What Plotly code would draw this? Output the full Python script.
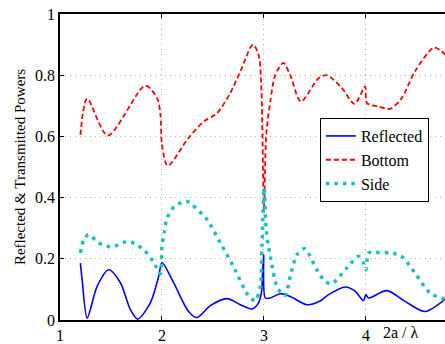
import plotly.graph_objects as go

# Reflected power
refl_x = [1.20, 1.217, 1.266, 1.364, 1.478, 1.593, 1.69, 1.762, 1.886, 1.968, 2.0, 2.115, 2.26,
          2.344, 2.474, 2.638, 2.768, 2.882, 2.947, 2.975, 2.996, 3.013, 3.062, 3.16, 3.258, 3.421,
          3.545, 3.633, 3.796, 3.894, 3.975, 3.999, 4.025, 4.205, 4.384, 4.58, 4.80]
refl_y = [0.186, 0.132, 0.006, 0.11, 0.164, 0.121, 0.034, 0.003, 0.056, 0.143, 0.188, 0.121, 0.028,
          0.008, 0.047, 0.07, 0.05, 0.036, 0.056, 0.09, 0.213, 0.072, 0.072, 0.086, 0.077, 0.05,
          0.061, 0.083, 0.108, 0.094, 0.063, 0.083, 0.072, 0.096, 0.061, 0.028, 0.075]

# Bottom transmitted power
bot_x = [1.20, 1.266, 1.468, 1.837, 1.952, 1.985, 2.0, 2.056, 2.26, 2.41, 2.54, 2.67, 2.768,
         2.892, 2.947, 2.973, 3.0, 3.022, 3.062, 3.11, 3.19, 3.258, 3.362, 3.535, 3.617, 3.764,
         3.888, 3.992, 4.009, 4.122, 4.237, 4.35, 4.48, 4.67, 4.80]
bot_y = [0.605, 0.723, 0.603, 0.766, 0.725, 0.671, 0.573, 0.504, 0.595, 0.649, 0.676, 0.742, 0.812,
         0.90, 0.867, 0.769, 0.36, 0.605, 0.714, 0.80, 0.84, 0.80, 0.714, 0.79, 0.80, 0.758,
         0.706, 0.763, 0.709, 0.698, 0.69, 0.725, 0.812, 0.89, 0.86]

# Side transmitted power
side_x = [1.20, 1.233, 1.282, 1.38, 1.511, 1.625, 1.697, 1.82, 1.913, 1.984, 2.0, 2.024, 2.05,
          2.121, 2.239, 2.295, 2.442, 2.572, 2.70, 2.849, 2.915, 2.964, 2.98, 3.003, 3.022, 3.062,
          3.133, 3.205, 3.258, 3.323, 3.398, 3.519, 3.60, 3.666, 3.813, 3.927, 3.976, 4.0, 4.025,
          4.07, 4.25, 4.35, 4.48, 4.63, 4.80]
side_y = [0.219, 0.262, 0.279, 0.252, 0.239, 0.254, 0.255, 0.23, 0.192, 0.151, 0.24, 0.29, 0.333,
          0.371, 0.388, 0.377, 0.328, 0.252, 0.175, 0.079, 0.063, 0.11, 0.24, 0.431, 0.295, 0.208,
          0.105, 0.08, 0.143, 0.213, 0.233, 0.164, 0.126, 0.119, 0.17, 0.208, 0.186, 0.164, 0.219,
          0.22, 0.219, 0.208, 0.154, 0.088, 0.066]

x_ticks = [1, 2, 3, 4]
y_ticks = [0, 0.2, 0.4, 0.6, 0.8, 1]
y_ticktext = ["0", "0.2", "0.4", "0.6", "0.8", "1"]

serif = "'Liberation Serif', 'Times New Roman', 'DejaVu Serif', serif"

fig = go.Figure()
fig.add_trace(go.Scatter(x=refl_x, y=refl_y, mode="lines", name="Reflected",
                         line=dict(color="#0000ff", width=1.6, shape="spline", smoothing=0.8)))
fig.add_trace(go.Scatter(x=bot_x, y=bot_y, mode="lines", name="Bottom",
                         line=dict(color="#ff0000", width=1.8, dash="5px,3px", shape="spline", smoothing=0.8)))
fig.add_trace(go.Scatter(x=side_x, y=side_y, mode="lines", name="Side",
                         line=dict(color="#1fbfbf", width=3.5, dash="3.5px,5px", shape="spline", smoothing=0.8)))

grid = dict(showgrid=True, gridcolor="#b4b4b4", griddash="1px,4px", gridwidth=1)

fig.update_layout(
    width=445, height=344,
    margin=dict(l=60, r=0, t=14, b=24),
    paper_bgcolor="white", plot_bgcolor="white",
    font=dict(family=serif, size=16, color="black"),
    showlegend=True,
    legend=dict(x=0.675, y=0.66, xanchor="left", yanchor="top",
                bordercolor="black", borderwidth=1, bgcolor="white",
                font=dict(family=serif, size=16), tracegroupgap=0),
    xaxis=dict(range=[1, 4.775], tickvals=x_ticks, ticktext=[str(v) for v in x_ticks],
               showline=True, linecolor="black", linewidth=1.5, mirror="ticks",
               ticks="inside", ticklen=4, tickcolor="black",
               zeroline=False, tickfont=dict(family=serif, size=16), **grid),
    yaxis=dict(range=[0, 1], tickvals=y_ticks, ticktext=y_ticktext,
               showline=True, linecolor="black", linewidth=1.5, mirror=False,
               ticks="inside", ticklen=4, tickcolor="black",
               zeroline=False, tickfont=dict(family=serif, size=16),
               title=dict(text="Reflected & Transmitted Powers", font=dict(family=serif, size=15),
                          standoff=6), **grid),
)

fig.add_annotation(text="2a / λ", xref="paper", yref="paper", x=0.835, y=0,
                   xanchor="left", yanchor="top", yshift=-2, showarrow=False,
                   font=dict(family=serif, size=16, color="black"))

fig.write_html("out.html")
